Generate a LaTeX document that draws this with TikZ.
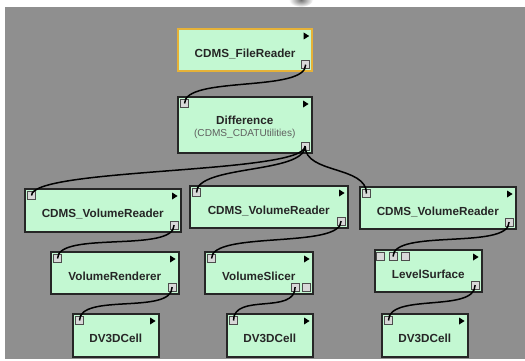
\documentclass[tikz,border=0pt]{standalone}
\usepackage{fontspec}
\setmainfont{Liberation Sans}
\usetikzlibrary{calc}

\definecolor{canvas}{RGB}{143,143,143}
\definecolor{modfill}{RGB}{195,248,210}
\definecolor{selborder}{RGB}{230,178,56}
\definecolor{portfill}{RGB}{216,216,216}
\definecolor{subtext}{RGB}{95,95,95}

\tikzset{
  module/.style={draw=black!85, line width=1.6pt, fill=modfill, inner sep=0pt, anchor=north west},
  selected/.style={draw=selborder, line width=2.2pt},
  title/.style={font=\bfseries\fontsize{11.7}{13}\selectfont, text=black!85, inner sep=0pt, anchor=base},
  subtitle/.style={font=\fontsize{10.1}{12}\selectfont, text=subtext, inner sep=0pt, anchor=base},
  port/.style={draw=black!70, fill=portfill, line width=0.8pt, minimum size=8pt, inner sep=0pt},
  wire/.style={line width=1.5pt, black},
  runmark/.style={fill=black}
}

% module box: name, left, top, right, bottom (pixel-like units, y grows downward)
\newcommand\vtmodule[6][]{%
  \node[module, #1, minimum width={#5-#3}, minimum height={#6-#4}] (#2) at (#3,#4) {};
  \fill[runmark] (#2.north east) ++(-9.5,4.5) -- ++(5.5,3.5) -- ++(-5.5,3.5) -- cycle;
}
\newcommand\inport[2]{\node[port] (#1in) at ($(#1.north west)+(7.5,7.5)$) {};}
\newcommand\outport[2]{\node[port] (#1out) at ($(#1.south east)+(-7.5,-7.5)$) {};}
\newcommand\vtlabel[2]{\node[title] at ($(#1.center)+(0,7.3)$) {#2};}

\begin{document}
\begin{tikzpicture}[x=1pt, y=-1pt]
  \useasboundingbox (0,0) rectangle (525,361);
  \fill[white] (0,0) rectangle (525,361);
  \shade[inner color=black!55, outer color=white] (301,0) ellipse (12 and 7);
  \fill[canvas] (5,7) rectangle (525,359);

  % modules
  \vtmodule[selected]{fr}{177}{28}{311}{70}
  \vtmodule{diff}{177}{96}{311}{152}
  \vtmodule{vrA}{24}{188}{180}{231}
  \vtmodule{vrB}{189}{185}{347}{227}
  \vtmodule{vrC}{359}{186}{515}{228}
  \vtmodule{vren}{50}{251}{178}{293}
  \vtmodule{vsl}{204}{251}{312}{293}
  \vtmodule{lvl}{374}{249}{481}{291}
  \vtmodule{cA}{72}{313}{158}{356}
  \vtmodule{cB}{226}{313}{312}{356}
  \vtmodule{cC}{381}{313}{467}{356}

  % labels
  \vtlabel{fr}{CDMS\_FileReader}
  \node[title] at ($(diff.center)+(0,0)$) {Difference};
  \node[subtitle] at ($(diff.center)+(0,11.5)$) {(CDMS\_CDATUtilities)};
  \vtlabel{vrA}{CDMS\_VolumeReader}
  \vtlabel{vrB}{CDMS\_VolumeReader}
  \vtlabel{vrC}{CDMS\_VolumeReader}
  \vtlabel{vren}{VolumeRenderer}
  \vtlabel{vsl}{VolumeSlicer}
  \vtlabel{lvl}{LevelSurface}
  \vtlabel{cA}{DV3DCell}
  \vtlabel{cB}{DV3DCell}
  \vtlabel{cC}{DV3DCell}

  % ports
  \outport{fr}{}
  \inport{diff}{} \outport{diff}{}
  \inport{vrA}{} \outport{vrA}{}
  \inport{vrB}{} \outport{vrB}{}
  \inport{vrC}{} \outport{vrC}{}
  \inport{vren}{} \outport{vren}{}
  \inport{vsl}{}
  \node[port] (vslout) at ($(vsl.south east)+(-18.5,-7.5)$) {};
  \node[port] (vslextra) at ($(vsl.south east)+(-7,-7.5)$) {};
  \node[port] (lvlinA) at ($(lvl.north west)+(6.5,7.5)$) {};
  \node[port] (lvlin) at ($(lvl.north west)+(19,7.5)$) {};
  \node[port] (lvlinC) at ($(lvl.north west)+(31.5,7.5)$) {};
  \outport{lvl}{}
  \inport{cA}{} \inport{cB}{} \inport{cC}{}

  % connections
  \foreach \a/\b in {fr/diff, diff/vrA, diff/vrB, diff/vrC, vrA/vren, vrB/vsl, vrC/lvl, vren/cA, vsl/cB, lvl/cC}
    \draw[wire] (\a out.center) .. controls +(0,28) and +(0,-28) .. (\b in.center);
\end{tikzpicture}
\end{document}
